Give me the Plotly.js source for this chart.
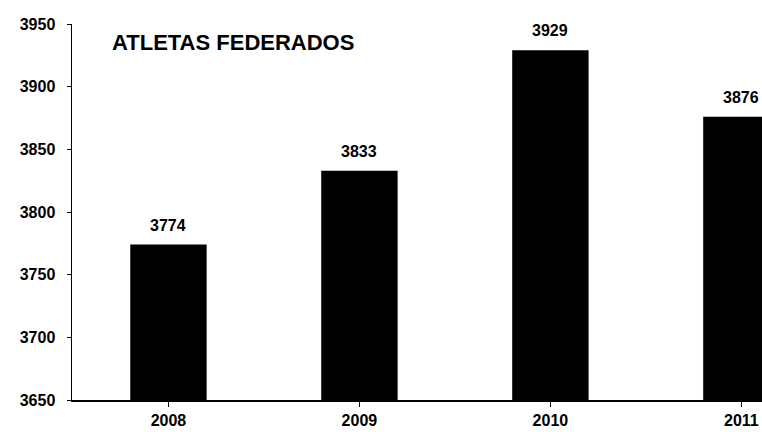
<!DOCTYPE html>
<html>
<head>
<meta charset="utf-8">
<script src="https://cdn.plot.ly/plotly-3.0.1.min.js"></script>
<style>html,body{margin:0;padding:0;background:#fff;}#chart{width:762px;height:432px;}</style>
</head>
<body>
<div id="chart"></div>
<script>
const years = ["2008", "2009", "2010", "2011"];
const athletes = [3774, 3833, 3929, 3876];
const yTicks = [3650, 3700, 3750, 3800, 3850, 3900, 3950];
const chartTitle = "ATLETAS FEDERADOS";

const font = "Liberation Sans, Arial, sans-serif";

const trace = {
  type: "bar",
  x: [0, 1, 2, 3],
  y: athletes,
  width: 0.4,
  marker: {color: "#000000", line: {width: 0}},
  hoverinfo: "none"
};

const annotations = athletes.map((v, i) => ({
  x: i, y: v, xref: "x", yref: "y",
  text: "<b>" + v + "</b>",
  showarrow: false,
  yanchor: "bottom",
  yshift: 9,
  font: {family: font, size: 16, color: "#000"}
}));

const layout = {
  width: 762, height: 432,
  margin: {l: 72, r: 0, t: 24, b: 32, pad: 0},
  paper_bgcolor: "#fff", plot_bgcolor: "#fff",
  showlegend: false,
  title: {
    text: "<b>" + chartTitle + "</b>",
    font: {family: font, size: 22, color: "#000"},
    xref: "paper", x: 40 / 690, xanchor: "left",
    yref: "container", y: 1 - 42 / 432, yanchor: "middle"
  },
  xaxis: {
    range: [-0.505, 3.108],
    tickmode: "array",
    tickvals: [0, 1, 2, 3],
    ticktext: years.map(y => "<b>" + y + "</b>"),
    tickson: "boundaries",
    ticks: "outside", ticklen: 5, tickwidth: 1, tickcolor: "#000",
    showline: true, linecolor: "#000", linewidth: 1.5,
    showgrid: false, zeroline: false,
    tickfont: {family: font, size: 16, color: "#000"},
    fixedrange: true
  },
  yaxis: {
    range: [3650, 3950],
    tickmode: "array",
    tickvals: yTicks,
    ticktext: yTicks.map(t => "<b>" + t + "</b>"),
    ticks: "outside", ticklen: 4, tickwidth: 1, tickcolor: "#000",
    showline: true, linecolor: "#000", linewidth: 1.5,
    showgrid: false, zeroline: false,
    tickfont: {family: font, size: 16, color: "#000"},
    ticklabelstandoff: 8,
    fixedrange: true
  },
  annotations: annotations
};

Plotly.newPlot("chart", [trace], layout, {displayModeBar: false, staticPlot: true});
</script>
</body>
</html>
